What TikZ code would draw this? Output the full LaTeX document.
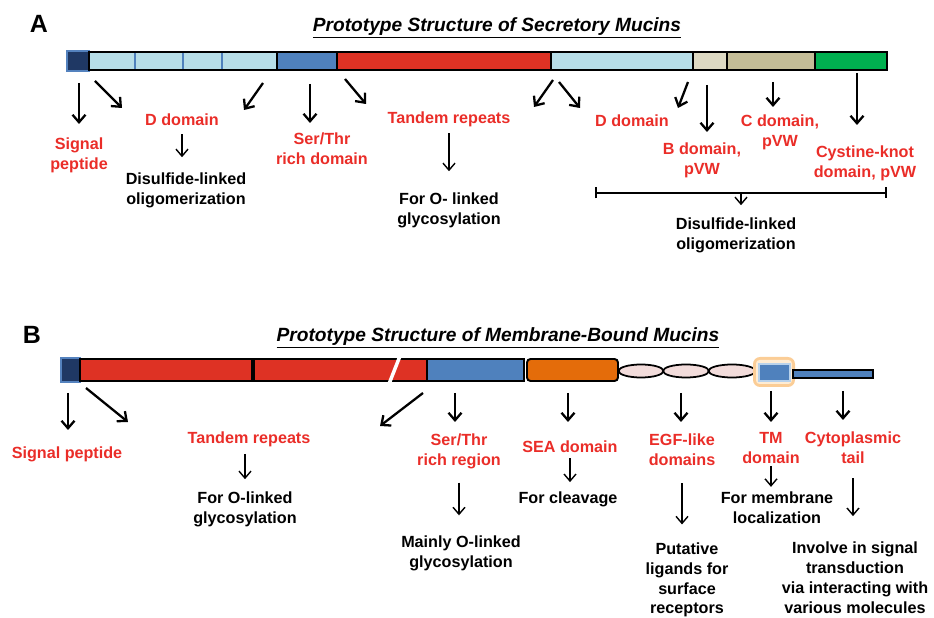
\documentclass[tikz,border=0pt]{standalone}
\usepackage{fontspec}
\setmainfont{Liberation Sans}
\usepackage{tikz}
\usetikzlibrary{arrows.meta,shapes,positioning,calc}
\definecolor{mcred}{RGB}{222,50,36}
\definecolor{mclabel}{RGB}{234,45,40}
\definecolor{mcnavy}{RGB}{31,56,100}
\definecolor{mcedge}{RGB}{84,130,190}
\definecolor{mcblue}{RGB}{79,129,189}
\definecolor{mcpale}{RGB}{185,210,235}
\definecolor{mclightblue}{RGB}{183,222,232}
\definecolor{mcbeige}{RGB}{221,217,195}
\definecolor{mctan}{RGB}{196,189,151}
\definecolor{mcgreen}{RGB}{0,176,80}
\definecolor{mcorange}{RGB}{228,108,10}
\definecolor{mcpink}{RGB}{242,220,219}
\definecolor{mcglow}{RGB}{251,205,150}
\definecolor{mcglowin}{RGB}{254,236,212}
\tikzstyle{segbox} = [draw=black, line width=1.1pt]
\tikzstyle{sigbox} = [draw=mcedge, fill=mcnavy, line width=1pt]
\tikzstyle{dlabel} = [inner sep=0pt, align=center, text=mclabel, font=\bfseries\fontsize{9.2}{11.3}\selectfont]
\tikzstyle{rolelabel} = [inner sep=0pt, align=center, text=black, font=\bfseries\fontsize{9.2}{11.3}\selectfont]
\tikzstyle{heading} = [inner sep=0pt, font=\bfseries\itshape\fontsize{10.9}{13}\selectfont]
\tikzstyle{panel} = [inner sep=0pt, font=\bfseries\fontsize{14.2}{16}\selectfont]
\tikzstyle{arrow} = [line width=1.3pt, -{Straight Barb[length=1.5mm, width=2.6mm]}]
\tikzstyle{thinarrow} = [line width=0.8pt, -{Straight Barb[length=1.4mm, width=2.4mm]}]

\begin{document}
\begin{tikzpicture}[x=0.02cm, y=-0.02cm]
\useasboundingbox (0,0) rectangle (934,618);

% A: secretory mucins
\node[panel] (labA) at (39,24) {A};
\node[heading] (titA) at (497,28) {\underline{Prototype Structure of Secretory Mucins}};

\draw[sigbox] (67,51) rectangle (89,71);
\draw[segbox, fill=mclightblue] (89,52) rectangle (277,70);
\draw[mcblue, line width=0.6pt] (135,53) -- (135,69);
\draw[mcblue, line width=0.6pt] (183,53) -- (183,69);
\draw[mcblue, line width=0.6pt] (222,53) -- (222,69);
\draw[segbox, fill=mcblue] (277,52) rectangle (337,70);
\draw[segbox, fill=mcred] (337,52) rectangle (551,70);
\draw[segbox, fill=mclightblue] (551,52) rectangle (693,70);
\draw[segbox, fill=mcbeige] (693,52) rectangle (727,70);
\draw[segbox, fill=mctan] (727,52) rectangle (815,70);
\draw[segbox, fill=mcgreen] (815,52) rectangle (887,70);

\node[dlabel] (sigA) at (79,155) {Signal\\peptide};
\node[dlabel] (dA1) at (182,120) {D domain};
\node[rolelabel] (olA1) at (186,190) {Disulfide-linked\\oligomerization};
\node[dlabel] (stA) at (322,149) {Ser/Thr\\rich domain};
\node[dlabel] (trA) at (449,119) {Tandem repeats};
\node[rolelabel] (glyA) at (449,210) {For O- linked\\glycosylation};
\node[dlabel] (dA2) at (632,121) {D domain};
\node[dlabel] (bA) at (702,160) {B domain,\\pVW};
\node[dlabel] (cA) at (780,132) {C domain,\\pVW};
\node[dlabel] (ckA) at (865,163) {Cystine-knot\\domain, pVW};
\node[rolelabel] (olA2) at (736,235) {Disulfide-linked\\oligomerization};

\coordinate (a1) at (79,83);   \coordinate (a1e) at (79,124);
\coordinate (a2) at (95,81);   \coordinate (a2e) at (122,108);
\coordinate (a3) at (263,83);  \coordinate (a3e) at (244,110);
\coordinate (a4) at (310,84);  \coordinate (a4e) at (310,123);
\coordinate (a5) at (345,79);  \coordinate (a5e) at (366,104);
\coordinate (a6) at (553,80);  \coordinate (a6e) at (534,107);
\coordinate (a7) at (559,82);  \coordinate (a7e) at (580,108);
\coordinate (a8) at (688,82);  \coordinate (a8e) at (678,108);
\coordinate (a9) at (707,85);  \coordinate (a9e) at (707,132);
\coordinate (a10) at (773,82); \coordinate (a10e) at (773,107);
\coordinate (a11) at (857,73); \coordinate (a11e) at (857,125);
\draw[arrow] (a1) -- (a1e);
\draw[arrow] (a2) -- (a2e);
\draw[arrow] (a3) -- (a3e);
\draw[arrow] (a4) -- (a4e);
\draw[arrow] (a5) -- (a5e);
\draw[arrow] (a6) -- (a6e);
\draw[arrow] (a7) -- (a7e);
\draw[arrow] (a8) -- (a8e);
\draw[arrow] (a9) -- (a9e);
\draw[arrow] (a10) -- (a10e);
\draw[arrow] (a11) -- (a11e);

\draw[thinarrow, shorten <=4.5pt, shorten >=8.5pt] (dA1.south) -- (dA1.south |- olA1.north);
\draw[thinarrow, shorten <=3.7pt, shorten >=11.9pt] (trA.south) -- (trA.south |- glyA.north);

\coordinate (brL) at (595,193);
\coordinate (brR) at (887,193);
\coordinate (brM) at ($(brL)!0.5!(brR)$);
\draw[line width=1pt, {Bar[width=2.2mm]}-{Bar[width=2.2mm]}] (brL) -- (brR);
\draw[thinarrow, shorten >=6.8pt] (brM) -- (brM |- olA2.north);

% B: membrane-bound mucins
\node[panel] (labB) at (32,335) {B};
\node[heading] (titB) at (498,338) {\underline{Prototype Structure of Membrane-Bound Mucins}};

\draw[sigbox] (61,358) rectangle (80,382);
\draw[segbox, fill=mcred] (80,359) rectangle (427,381);
\draw[line width=2.2pt] (253,359) -- (253,381);
\draw[white, line width=2pt] (389,384) -- (400,356);
\draw[segbox, fill=mcblue] (427,359) rectangle (524,381);
\draw[segbox, fill=mcorange, rounded corners=2pt] (527,359) rectangle (618,381);
\draw[segbox, line width=1pt, fill=mcpink] (641,371) ellipse [x radius=22.5, y radius=6.5];
\draw[segbox, line width=1pt, fill=mcpink] (686,371) ellipse [x radius=23, y radius=6.5];
\draw[segbox, line width=1pt, fill=mcpink] (732,371) ellipse [x radius=23.5, y radius=6.5];
\fill[mcglow, rounded corners=4pt] (753,357) rectangle (795,387);
\fill[mcglowin, rounded corners=2pt] (756,360) rectangle (792,384);
\draw[draw=mcpale, fill=mcblue, line width=1pt] (759,364) rectangle (790,381);
\draw[segbox, fill=mcblue] (793,370) rectangle (873,378);

\node[dlabel] (sigB) at (67,454) {Signal peptide};
\node[dlabel] (trB) at (249,439) {Tandem repeats};
\node[rolelabel] (glyB) at (245,509) {For O-linked\\glycosylation};
\node[dlabel] (stB) at (459,451) {Ser/Thr\\rich region};
\node[rolelabel] (mainB) at (461,553) {Mainly O-linked\\glycosylation};
\node[dlabel] (seaB) at (570,447) {SEA domain};
\node[rolelabel] (clvB) at (568,499) {For cleavage};
\node[dlabel] (egfB) at (682,450) {EGF-like\\domains};
\node[rolelabel] (putB) at (687,580) {Putative\\ligands for\\surface\\receptors};
\node[dlabel] (tmB) at (771,448) {TM\\domain};
\node[rolelabel] (memB) at (777,508) {For membrane\\localization};
\node[dlabel] (cytB) at (853,448) {Cytoplasmic\\tail};
\node[rolelabel] (invB) at (855,578) {Involve in signal\\transduction\\via interacting with\\various molecules};

\coordinate (b1) at (68,393);  \coordinate (b1e) at (68,430);
\coordinate (b2) at (86,388);  \coordinate (b2e) at (128,422);
\coordinate (b3) at (423,393); \coordinate (b3e) at (380,426);
\coordinate (b4) at (455,393); \coordinate (b4e) at (455,422);
\coordinate (b5) at (568,393); \coordinate (b5e) at (568,422);
\coordinate (b6) at (681,393); \coordinate (b6e) at (681,422);
\coordinate (b7) at (771,391); \coordinate (b7e) at (771,422);
\coordinate (b8) at (843,391); \coordinate (b8e) at (843,420);
\draw[arrow] (b1) -- (b1e);
\draw[arrow] (b2) -- (b2e);
\draw[arrow] (b3) -- (b3e);
\draw[arrow] (b4) -- (b4e);
\draw[arrow] (b5) -- (b5e);
\draw[arrow] (b6) -- (b6e);
\draw[arrow] (b7) -- (b7e);
\draw[arrow] (b8) -- (b8e);

\draw[thinarrow, shorten <=4pt, shorten >=6.8pt] (glyB.north |- trB.south) -- (glyB.north);
\draw[thinarrow, shorten <=7.9pt, shorten >=11.3pt] (stB.south) -- (stB.south |- mainB.north);
\draw[thinarrow, shorten <=2.8pt, shorten >=5.1pt] (seaB.south) -- (seaB.south |- clvB.north);
\draw[thinarrow, shorten <=9.6pt, shorten >=10.2pt] (egfB.south) -- (egfB.south |- putB.north);
\draw[thinarrow, shorten <=1.1pt, shorten >=2.8pt] (tmB.south) -- (tmB.south |- memB.north);
\draw[thinarrow, shorten <=7.9pt, shorten >=14.7pt] (cytB.south) -- (cytB.south |- invB.north);
\end{tikzpicture}
\end{document}
